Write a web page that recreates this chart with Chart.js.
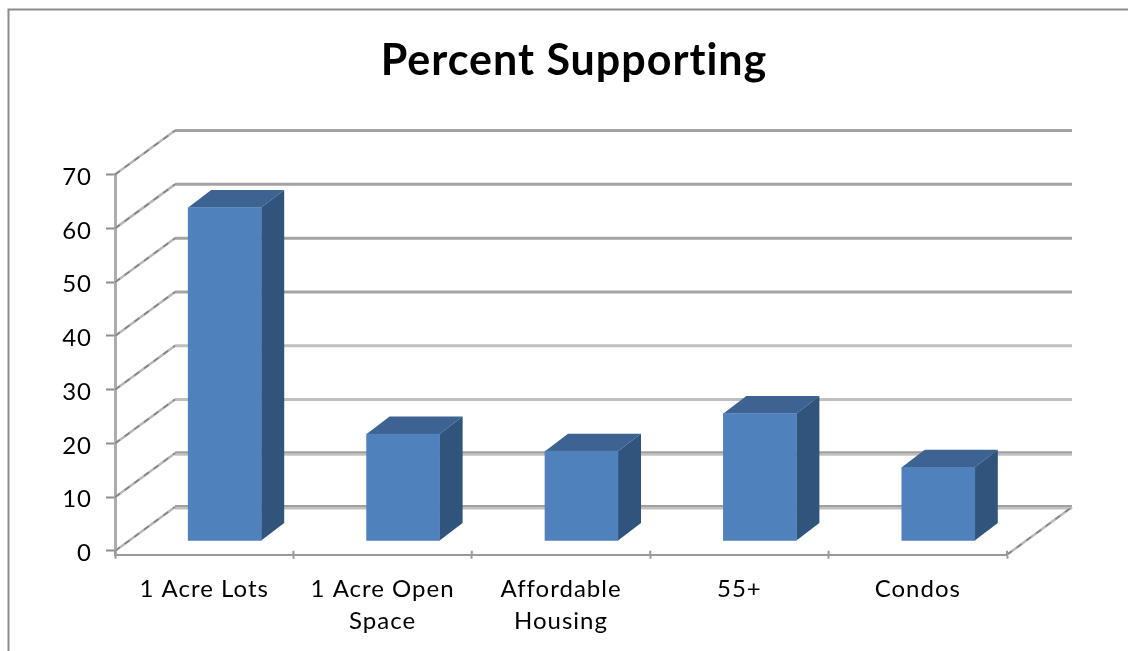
<!DOCTYPE html>
<html>
<head>
<meta charset="utf-8">
<style>
  html, body { margin: 0; background: #fff; }
  canvas { display: block; }
</style>
</head>
<body>
<canvas id="chartSupport" width="1128" height="651"></canvas>
<script src="https://cdn.jsdelivr.net/npm/chart.js@4"></script>
<script>
const categories = ["1 Acre Lots", ["1 Acre Open", "Space"], ["Affordable", "Housing"], "55+", "Condos"];
const percentSupporting = [62, 19.9, 16.7, 23.7, 13.7];
const titleText = "Percent Supporting";

// 3d look: the back wall sits this far behind the axes, bars sit part way in
const wallDx = 60;
const wallDxRight = 65;
const wallDy = -44;
const barDx = 20.5;
const barDy = -10;
const sideDx = 23;
const sideDy = -17.5;

function strokeLine(ctx, x1, y1, x2, y2, color, width) {
    ctx.strokeStyle = color;
    ctx.lineWidth = width;
    ctx.beginPath();
    ctx.moveTo(x1, y1);
    ctx.lineTo(x2, y2);
    ctx.stroke();
}

const wallsAndDepth = {
    id: "wallsAndDepth",
    beforeUpdate(chart) {
        // original text is spaced wider than Lato, this also stops the "ti" ligature
        chart.ctx.letterSpacing = "1px";
    },
    beforeDraw(chart) {
        const { ctx } = chart;
        ctx.letterSpacing = "1px";
        // outer frame, runs off the right and bottom of the picture
        ctx.save();
        ctx.strokeStyle = "#8c8c8c";
        ctx.lineWidth = 2;
        ctx.beginPath();
        ctx.moveTo(8.5, 651);
        ctx.lineTo(8.5, 9.5);
        ctx.lineTo(1128, 9.5);
        ctx.stroke();
        ctx.restore();
    },
    beforeDatasetsDraw(chart) {
        const { ctx, scales } = chart;
        const { x, y } = scales;
        const backLeft = x.left + wallDx;
        const backRight = x.right + wallDxRight;
        ctx.save();
        y.ticks.forEach((tick) => {
            const py = y.getPixelForValue(tick.value);
            const by = py + wallDy;
            // back wall, the rendering of the original differs per row
            if (tick.value >= 40) {
                strokeLine(ctx, backLeft, by, backRight, by, "#a3a3a3", 3);
            } else if (tick.value >= 20) {
                strokeLine(ctx, backLeft, by, backRight, by, "#c0c0c0", 3);
            } else {
                strokeLine(ctx, backLeft, by + 1, backRight, by + 1, "#c0c0c0", 3);
                strokeLine(ctx, backLeft, by - 1, backRight, by - 1, "#a0a0a0", 2);
            }
            // side wall
            strokeLine(ctx, x.left, py, backLeft, by, "#b8b8b8", 2.5);
            ctx.setLineDash([6, 6]);
            strokeLine(ctx, x.left, py, backLeft, by, "#808080", 1.5);
            ctx.setLineDash([]);
        });
        // floor edge on the right
        const floorBack = y.getPixelForValue(0) + wallDy;
        strokeLine(ctx, x.right, y.bottom, backRight, floorBack, "#b8b8b8", 2.5);
        ctx.setLineDash([6, 6]);
        strokeLine(ctx, x.right, y.bottom, backRight, floorBack, "#808080", 1.5);
        ctx.setLineDash([]);
        // category ticks also poke up above the axis line
        const step = x.width / categories.length;
        for (let i = 0; i <= categories.length; i++) {
            const px = x.left + i * step;
            strokeLine(ctx, px, y.bottom, px, y.bottom - 4, "#9a9a9a", 2);
        }
        ctx.restore();

        // faces behind the front of each bar
        ctx.save();
        ctx.translate(barDx, barDy);
        chart.getDatasetMeta(0).data.forEach((bar) => {
            const l = bar.x - bar.width / 2;
            const r = bar.x + bar.width / 2;
            ctx.fillStyle = "#3c6391";
            ctx.beginPath();
            ctx.moveTo(l, bar.y);
            ctx.lineTo(l + sideDx, bar.y + sideDy);
            ctx.lineTo(r + sideDx, bar.y + sideDy);
            ctx.lineTo(r, bar.y);
            ctx.closePath();
            ctx.fill();
            ctx.fillStyle = "#31547d";
            ctx.beginPath();
            ctx.moveTo(r, bar.y);
            ctx.lineTo(r + sideDx, bar.y + sideDy);
            ctx.lineTo(r + sideDx, bar.base + sideDy);
            ctx.lineTo(r, bar.base);
            ctx.closePath();
            ctx.fill();
        });
        ctx.restore();

        ctx.save();
        ctx.translate(barDx, barDy);
    },
    afterDatasetsDraw(chart) {
        chart.ctx.restore();
    },
    afterLayout(chart) {
        // the title is centred on the full original chart, not on this crop
        chart.titleBlock.left = 20;
        chart.titleBlock.right = 1128;
    },
};

new Chart(document.getElementById("chartSupport").getContext("2d"), {
    type: "bar",
    data: {
        labels: categories,
        datasets: [
            {
                label: titleText,
                data: percentSupporting,
                backgroundColor: "#4f81bd",
                borderWidth: 0,
                barThickness: 73,
                clip: false,
            },
        ],
    },
    options: {
        responsive: false,
        animation: false,
        layout: { padding: { left: 0, right: 121, top: 0, bottom: 0 } },
        plugins: {
            legend: { display: false },
            tooltip: { enabled: false },
            title: {
                display: true,
                text: titleText,
                color: "#000000",
                font: { family: "Lato", size: 43, weight: "bold", lineHeight: 1.2 },
                padding: { top: 35, bottom: 88 },
            },
        },
        scales: {
            x: {
                grid: { drawOnChartArea: false, tickLength: 4, color: "#9a9a9a", tickWidth: 2 },
                border: { color: "#9a9a9a", width: 2 },
                ticks: {
                    color: "#000000",
                    font: { family: "Lato", size: 24, lineHeight: 1.36 },
                    padding: 14,
                    maxRotation: 0,
                    autoSkip: false,
                },
                afterFit(scale) {
                    scale.height = 96.3;
                },
            },
            y: {
                min: -0.69,
                max: 70,
                grid: { drawOnChartArea: false, tickLength: 9, color: "#8e8e8e", tickWidth: 2 },
                border: { color: "#adadad", width: 3 },
                ticks: {
                    stepSize: 10,
                    includeBounds: false,
                    color: "#000000",
                    font: { family: "Lato", size: 24 },
                    padding: 14,
                    labelOffset: 2.5,
                },
                afterFit(scale) {
                    scale.width = 115;
                },
            },
        },
    },
    plugins: [wallsAndDepth],
});
</script>
</body>
</html>
